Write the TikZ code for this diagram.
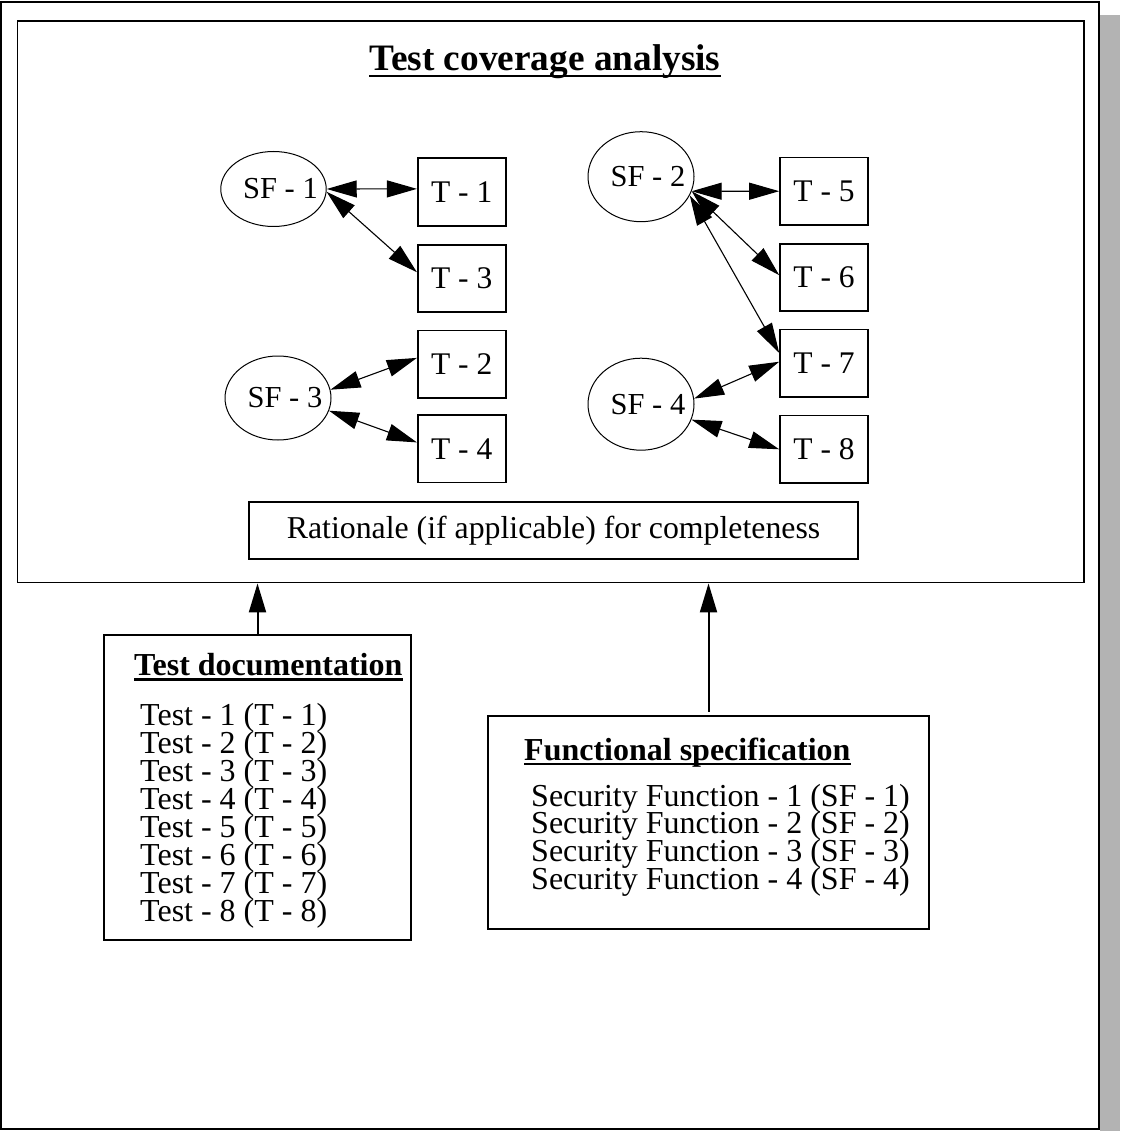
\documentclass[tikz,border=0pt]{standalone}
\usepackage{fontspec}
\setmainfont{Liberation Serif}
\usetikzlibrary{arrows.meta,shapes.geometric}
\definecolor{shadowgray}{RGB}{179,179,179}
\begin{document}
\begin{tikzpicture}[x=1pt,y=-1pt,
  sf/.style={ellipse,draw,line width=1pt,inner sep=0pt,font=\fontsize{30.5}{30.5}\selectfont},
  tbox/.style={rectangle,draw,line width=1.6pt,minimum width=88pt,minimum height=67.5pt,inner sep=0pt,font=\fontsize{31.5}{31.5}\selectfont},
  link/.style={line width=1.1pt,>={Triangle[length=30pt,width=17pt]},<->},
  uparrow/.style={line width=2pt,->,>={Triangle[length=29pt,width=17pt]}},
  docbox/.style={rectangle,draw,line width=2pt,inner sep=0pt},
  txt/.style={inner sep=0pt,anchor=base west,font=\fontsize{32}{28}\selectfont},
  headtxt/.style={inner sep=0pt,anchor=base west,font=\fontsize{32}{32}\selectfont\bfseries},
  uline/.style={line width=2.5pt}
]
\useasboundingbox (0,0) rectangle (1120,1131);
% shadow and outer frame
\fill[shadowgray] (1100,15) rectangle (1120,1131);
\fill[white] (1,2) rectangle (1098.7,1128.7);
\draw[line width=2.2pt] (1,2) rectangle (1098.7,1128.7);
% coverage frame
\node[draw,line width=1.8pt,inner sep=0pt,minimum width=1066.5pt,minimum height=561.2pt] (cov) at (550.75,301.9) {};
\node[inner sep=0pt,anchor=base,font=\fontsize{37.3}{37.3}\selectfont\bfseries] (title) at (545,71) {Test coverage analysis};
\draw[uline] ([yshift=-5pt]title.base west) -- ([yshift=-5pt]title.base east);
% security functions
\node[sf,minimum width=105pt,minimum height=75pt] (SF1) at (273.5,189) {\hspace*{7pt}SF - 1\hspace*{-7pt}};
\node[sf,minimum width=106pt,minimum height=84pt] (SF3) at (278,398) {\hspace*{7pt}SF - 3\hspace*{-7pt}};
\node[sf,minimum width=106pt,minimum height=90pt] (SF2) at (641,176.7) {\hspace*{7pt}SF - 2\hspace*{-7pt}};
\node[sf,minimum width=106pt,minimum height=92pt] (SF4) at (641,404.2) {\hspace*{7pt}SF - 4\hspace*{-7pt}};
% tests
\node[tbox] (T1) at (461.7,192) {T - 1};
\node[tbox] (T3) at (461.7,278.5) {T - 3};
\node[tbox] (T2) at (461.7,364.2) {T - 2};
\node[tbox] (T4) at (461.7,448.7) {T - 4};
\node[tbox] (T5) at (824,191.2) {T - 5};
\node[tbox] (T6) at (824,277.5) {T - 6};
\node[tbox] (T7) at (824,363.3) {T - 7};
\node[tbox] (T8) at (824,449.3) {T - 8};
% links
\draw[link] (SF1.east) -- (T1.176);
\draw[link] (SF1.-3) -- (T3.172);
\draw[link] (SF3.9) -- (T2.172);
\draw[link] (SF3.-14) -- (T4.172);
\draw[link] (SF2.-16) -- (T5.west);
\draw[link] (SF2.-16) -- (T6.177);
\draw[link] (SF2.-21) -- (T7.167);
\draw[link] (SF4.6) -- (T7.178);
\draw[link] (SF4.-17) -- (T8.west);
% rationale
\node[draw,line width=1.5pt,minimum width=609pt,minimum height=57pt,inner sep=0pt,font=\fontsize{31.8}{31.8}\selectfont] (rat) at (553.5,530.5) {Rationale (if applicable) for completeness};
% test documentation
\node[docbox,minimum width=307pt,minimum height=304.5pt] (TD) at (257.5,787.25) {};
\node[headtxt] (tdh) at (134,675) {Test documentation};
\draw[uline] ([yshift=-4.5pt]tdh.base west) -- ([yshift=-4.5pt]tdh.base east);
\foreach \i in {1,...,8} {
  \node[txt] (td\i) at (140,{725+28*(\i-1)}) {Test - \i{} (T - \i)};
}
% functional specification
\node[docbox,minimum width=441pt,minimum height=212.8pt] (FS) at (708.5,822.1) {};
\node[headtxt] (fsh) at (524,760) {Functional specification};
\draw[uline] ([yshift=-4pt]fsh.base west) -- ([yshift=-4pt]fsh.base east);
\foreach \i in {1,...,4} {
  \node[txt] (fs\i) at (531,{806+27.7*(\i-1)}) {Security Function - \i{} (SF - \i)};
}
% arrows up
\draw[uparrow] (TD.north) -- (TD.north |- cov.south);
\draw[uparrow,shorten <=3pt] (FS.north) -- (FS.north |- cov.south);
\end{tikzpicture}
\end{document}
